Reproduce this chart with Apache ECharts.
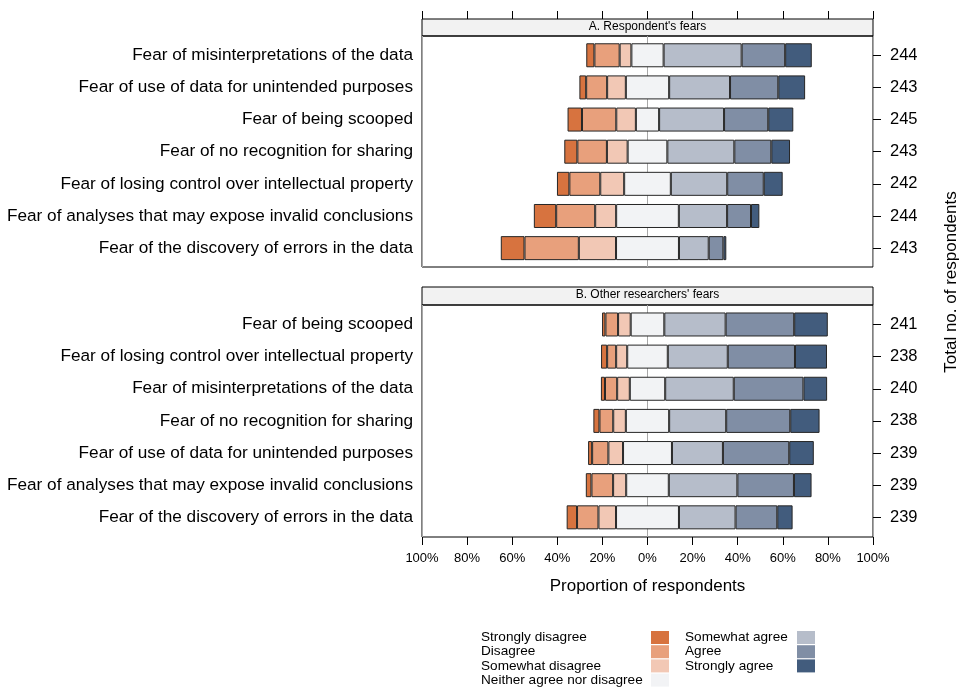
<!DOCTYPE html>
<html>
<head>
<meta charset="utf-8">
<script src="https://cdn.jsdelivr.net/npm/echarts@6/dist/echarts.min.js"></script>
<style>
  html, body { margin: 0; padding: 0; background: #ffffff; }
  #chart { width: 966px; height: 687px; }
</style>
</head>
<body>
<div id="chart"></div>
<script>
// ---- Panel A: respondent's own fears (percent of respondents) ----
const categoriesA = [
  'Fear of misinterpretations of the data',
  'Fear of use of data for unintended purposes',
  'Fear of being scooped',
  'Fear of no recognition for sharing',
  'Fear of losing control over intellectual property',
  'Fear of analyses that may expose invalid conclusions',
  'Fear of the discovery of errors in the data'
];
const countsA = [244, 243, 245, 243, 242, 244, 243];
const strongDisagreeA   = [3.6, 3.0, 6.4, 5.8, 5.5, 9.9, 10.5];
const disagreeA         = [11.2, 9.3, 15.2, 13.1, 13.7, 17.3, 24.1];
const somewhatDisA      = [5.2, 8.3, 8.7, 9.2, 10.6, 9.3, 16.5];
const neitherA          = [14.3, 19.2, 10.3, 17.6, 20.7, 27.8, 27.9];
const somewhatAgreeA    = [34.6, 27.0, 28.8, 29.7, 25.0, 21.4, 13.2];
const agreeA            = [19.3, 21.4, 19.6, 16.4, 16.2, 10.6, 6.5];
const strongAgreeA      = [11.8, 11.9, 11.1, 8.3, 8.4, 3.7, 1.3];

// ---- Panel B: fears attributed to other researchers ----
const categoriesB = [
  'Fear of being scooped',
  'Fear of losing control over intellectual property',
  'Fear of misinterpretations of the data',
  'Fear of no recognition for sharing',
  'Fear of use of data for unintended purposes',
  'Fear of analyses that may expose invalid conclusions',
  'Fear of the discovery of errors in the data'
];
const countsB = [241, 238, 240, 238, 239, 239, 239];
const strongDisagreeB   = [1.5, 2.7, 1.8, 2.7, 1.8, 2.5, 4.6];
const disagreeB         = [5.6, 4.0, 5.4, 6.1, 7.2, 9.6, 9.5];
const somewhatDisB      = [5.6, 4.9, 5.6, 5.6, 6.5, 5.8, 7.8];
const neitherB          = [14.9, 18.0, 15.7, 19.2, 21.7, 18.9, 27.9];
const somewhatAgreeB    = [27.2, 26.6, 30.4, 25.3, 22.6, 30.4, 25.1];
const agreeB            = [30.4, 29.8, 30.9, 28.4, 29.4, 25.1, 18.5];
const strongAgreeB      = [14.9, 14.2, 10.5, 13.0, 10.9, 7.8, 6.8];

const levels = ['Strongly disagree', 'Disagree', 'Somewhat disagree',
  'Neither agree nor disagree', 'Somewhat agree', 'Agree', 'Strongly agree'];
const levelColors = ['#d7733f', '#e8a07c', '#f2c8b5', '#f2f3f5', '#b6bdca', '#808ea5', '#425c7d'];

const FONT = '"Liberation Sans", Arial, Helvetica, sans-serif';

// Build the diverging stack for one panel: an invisible lead-in bar pushes
// each row left so the neutral segment straddles zero.
function panelSeries(tag, xIdx, yIdx, cols) {
  const lead = cols[0].map((_, i) => -(cols[0][i] + cols[1][i] + cols[2][i] + cols[3][i] / 2));
  const out = [{
    name: 'lead' + tag,
    type: 'bar',
    stack: 'likert' + tag,
    stackStrategy: 'all',
    xAxisIndex: xIdx,
    yAxisIndex: yIdx,
    barWidth: 24,
    silent: true,
    itemStyle: { color: 'rgba(0,0,0,0)', borderWidth: 0 },
    data: lead
  }];
  cols.forEach((vals, k) => {
    out.push({
      name: levels[k],
      type: 'bar',
      stack: 'likert' + tag,
      stackStrategy: 'all',
      xAxisIndex: xIdx,
      yAxisIndex: yIdx,
      barWidth: 24,
      itemStyle: { color: levelColors[k], borderColor: '#262626', borderWidth: 1 },
      data: vals
    });
  });
  return out;
}

const colsA = [strongDisagreeA, disagreeA, somewhatDisA, neitherA, somewhatAgreeA, agreeA, strongAgreeA];
const colsB = [strongDisagreeB, disagreeB, somewhatDisB, neitherB, somewhatAgreeB, agreeB, strongAgreeB];

const PL = 422, PW = 451;
const hidden = { show: false };
const noLine = { show: false, onZero: false };

function catLeft(gridIndex, cats) {
  return {
    type: 'category', gridIndex: gridIndex, data: cats, inverse: true, position: 'left',
    axisLine: noLine, axisTick: hidden, splitLine: hidden,
    axisLabel: { color: '#000', fontSize: 17.2, margin: 9, fontFamily: FONT }
  };
}
function catRight(gridIndex, counts) {
  return {
    type: 'category', gridIndex: gridIndex, data: counts.map(String), inverse: true, position: 'right',
    axisLine: noLine, splitLine: hidden,
    axisTick: { show: true, alignWithLabel: true, length: 8, lineStyle: { color: '#000' } },
    axisLabel: { color: '#000', fontSize: 16.5, margin: 17, fontFamily: FONT }
  };
}
function hiddenY(gridIndex) {
  return { type: 'value', gridIndex: gridIndex, show: false, axisLine: noLine };
}
function hiddenX(gridIndex) {
  return { type: 'value', gridIndex: gridIndex, min: -100, max: 100, show: false, axisLine: noLine };
}
function zeroLineX(gridIndex) {
  return {
    type: 'value', gridIndex: gridIndex, min: -100, max: 100, interval: 100, position: 'top',
    axisLine: noLine, axisTick: hidden, axisLabel: hidden,
    splitLine: { show: true, lineStyle: { color: '#a8a8a8', width: 1 } }
  };
}
function legendBlock(names, left, textWidth) {
  return {
    data: names, orient: 'vertical', left: left, top: 630.5, height: 62, padding: 0,
    align: 'right', icon: 'rect', itemWidth: 18, itemHeight: 13, itemGap: 0.2,
    selectedMode: false,
    itemStyle: { borderWidth: 0 },
    formatter: name => '{t|' + name + '}',
    textStyle: { color: '#000', fontSize: 13.6, fontFamily: FONT,
      rich: { t: { width: textWidth, align: 'left', fontSize: 13.6, lineHeight: 14, fontFamily: FONT, color: '#000' } } }
  };
}

const chart = echarts.init(document.getElementById('chart'), null, { renderer: 'canvas' });

chart.setOption({
  animation: false,
  backgroundColor: '#ffffff',
  textStyle: { fontFamily: FONT, color: '#000' },
  grid: [
    // panel A: strip, frame, bars
    { left: PL, width: PW, top: 19, height: 17, show: true, backgroundColor: '#f2f2f2', borderColor: '#000', borderWidth: 1 },
    { left: PL, width: PW, top: 36, height: 231, show: true, backgroundColor: 'transparent', borderColor: '#000', borderWidth: 1 },
    { left: PL, width: PW, top: 39.2, height: 225 },
    // panel B: strip, frame, bars
    { left: PL, width: PW, top: 287, height: 18, show: true, backgroundColor: '#f2f2f2', borderColor: '#000', borderWidth: 1 },
    { left: PL, width: PW, top: 305, height: 232, show: true, backgroundColor: 'transparent', borderColor: '#000', borderWidth: 1 },
    { left: PL, width: PW, top: 308.4, height: 225 }
  ],
  xAxis: [
    {
      type: 'value', gridIndex: 0, min: -100, max: 100, interval: 20, position: 'top',
      axisLine: noLine, axisLabel: hidden, splitLine: hidden,
      axisTick: { show: true, length: 8, lineStyle: { color: '#000' } }
    },
    zeroLineX(1),
    hiddenX(2),
    hiddenX(3),
    zeroLineX(4),
    {
      type: 'value', gridIndex: 4, min: -100, max: 100, interval: 20, position: 'bottom',
      axisLine: noLine, splitLine: hidden,
      axisTick: { show: true, length: 8, lineStyle: { color: '#000' } },
      axisLabel: { color: '#000', fontSize: 13, margin: 15, fontFamily: FONT,
        formatter: v => Math.abs(v) + '%' },
      name: 'Proportion of respondents', nameLocation: 'middle', nameGap: 41,
      nameTextStyle: { color: '#000', fontSize: 17, fontFamily: FONT }
    },
    hiddenX(5)
  ],
  yAxis: [
    hiddenY(0),
    hiddenY(1),
    catLeft(2, categoriesA),
    catRight(2, countsA),
    hiddenY(3),
    hiddenY(4),
    catLeft(5, categoriesB),
    catRight(5, countsB)
  ],
  title: [
    { text: "A. Respondent's fears", left: 647.5, top: 20.5, textAlign: 'center', padding: 0,
      textStyle: { fontSize: 12, fontWeight: 'normal', color: '#000', fontFamily: FONT } },
    { text: "B. Other researchers' fears", left: 647.5, top: 289, textAlign: 'center', padding: 0,
      textStyle: { fontSize: 12, fontWeight: 'normal', color: '#000', fontFamily: FONT } }
  ],
  legend: [
    legendBlock(levels.slice(0, 4), 481, 165),
    legendBlock(levels.slice(4), 685, 107)
  ],
  graphic: [
    { type: 'text', x: 951, y: 282, rotation: Math.PI / 2, silent: true,
      style: { text: 'Total no. of respondents', fill: '#000', font: '17px ' + FONT,
        textAlign: 'center', textVerticalAlign: 'middle' } }
  ],
  series: [].concat(panelSeries('A', 2, 2, colsA), panelSeries('B', 6, 6, colsB))
});
</script>
</body>
</html>
